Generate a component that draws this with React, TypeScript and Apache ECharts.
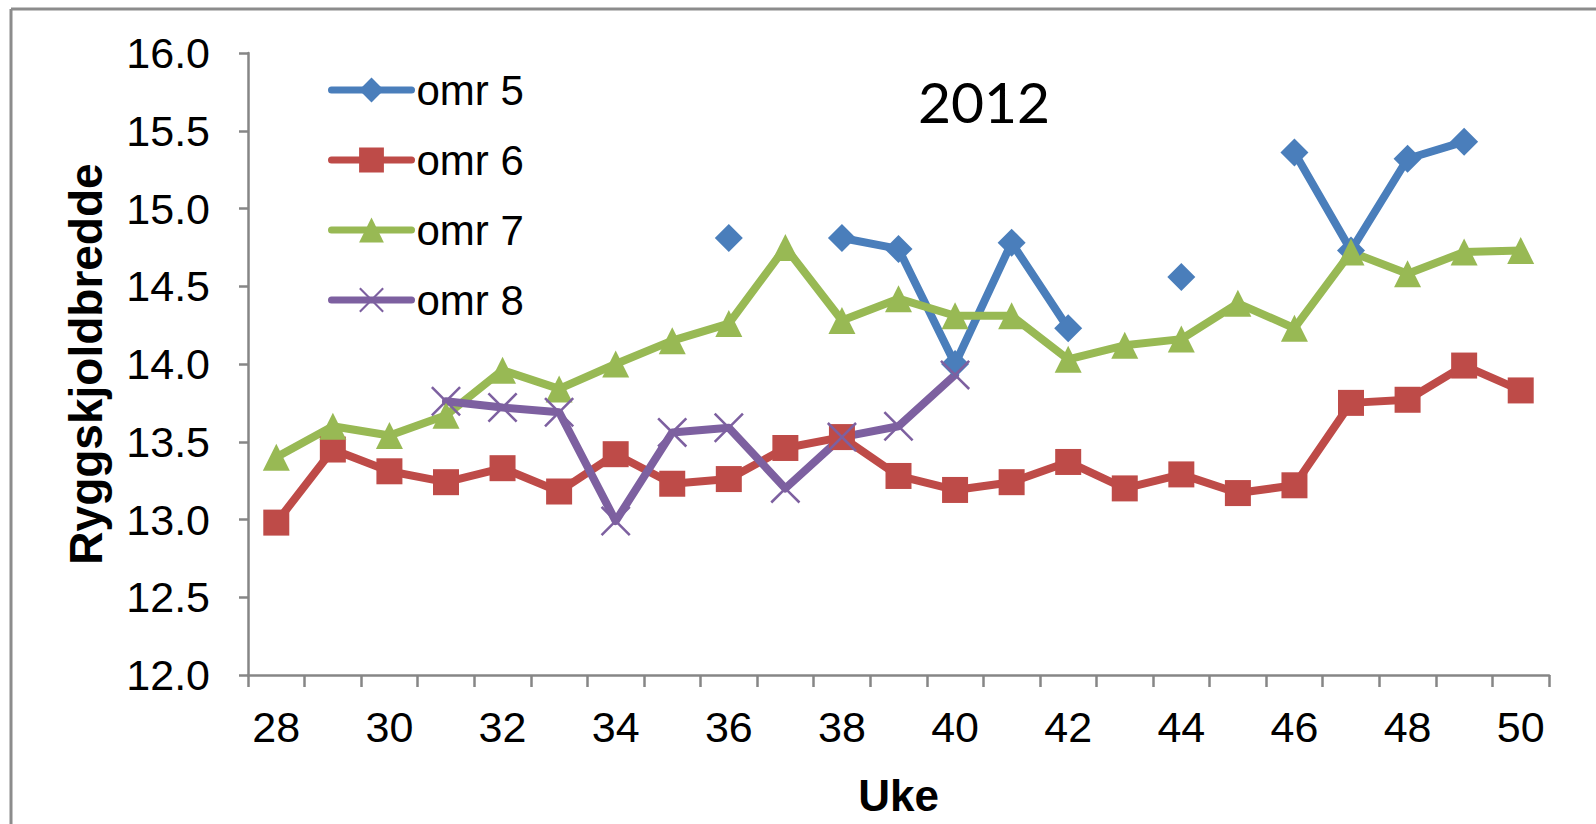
import React, { useEffect, useRef } from "react";
import * as echarts from "echarts";

const weeks = ["28", "29", "30", "31", "32", "33", "34", "35", "36", "37", "38", "39", "40", "41", "42", "43", "44", "45", "46", "47", "48", "49", "50"];
const omr5 = [null, null, null, null, null, null, null, null, 14.81, null, 14.81, 14.74, 14.0, 14.78, 14.23, null, 14.56, null, 15.36, 14.73, 15.32, 15.43, null];
const omr6 = [12.98, 13.45, 13.31, 13.24, 13.33, 13.18, 13.42, 13.23, 13.26, 13.46, 13.53, 13.28, 13.19, 13.24, 13.37, 13.2, 13.29, 13.17, 13.22, 13.75, 13.77, 13.99, 13.83];
const omr7 = [13.4, 13.6, 13.54, 13.67, 13.96, 13.84, 14.0, 14.15, 14.26, 14.75, 14.28, 14.42, 14.31, 14.31, 14.03, 14.12, 14.16, 14.39, 14.23, 14.72, 14.58, 14.72, 14.73];
const omr8 = [null, null, null, 13.76, 13.72, 13.69, 12.99, 13.56, 13.59, 13.2, 13.53, 13.6, 13.93, null, null, null, null, null, null, null, null, null, null];
const seriesNames = ["omr 5", "omr 6", "omr 7", "omr 8"];
const titleText = "2012";
const yName = "Ryggskjoldbredde";
const xName = "Uke";

const FONT = "'Liberation Sans', Arial, sans-serif";
const AXIS = "#868686";
const XPATH = "path://M0,6 L6,0 L50,44 L94,0 L100,6 L56,50 L100,94 L94,100 L50,56 L6,100 L0,94 L44,50 Z";

export default function App() {
  const ref = useRef<HTMLDivElement>(null);
  useEffect(() => {
    if (!ref.current) return;
    const chart = echarts.init(ref.current, null, { renderer: "svg" });
    const mk = (name: string, data: (number | null)[], color: string, symbol: string, size: number) => ({
      name,
      type: "line",
      data,
      connectNulls: false,
      showSymbol: true,
      showAllSymbol: true,
      symbol,
      symbolSize: size,
      lineStyle: { color, width: 8, cap: "round", join: "round" },
      itemStyle: { color, borderWidth: 0 },
      emphasis: { disabled: true },
    });
    chart.setOption({
      animation: false,
      backgroundColor: "#ffffff",
      grid: { left: 248, right: 47, top: 53, bottom: 149, containLabel: false },
      legend: {
        orient: "vertical",
        left: 328,
        top: 69,
        padding: 0,
        itemWidth: 80,
        itemHeight: 31,
        itemGap: 28,
        data: seriesNames,
        textStyle: { fontFamily: FONT, fontSize: 42, color: "#000" },
        lineStyle: { width: 7, cap: "round" },
      },
      xAxis: {
        type: "category",
        data: weeks,
        boundaryGap: true,
        name: xName,
        nameLocation: "middle",
        nameGap: 98,
        nameTextStyle: { fontFamily: FONT, fontSize: 44, fontWeight: "bold", color: "#000" },
        axisLine: { show: true, lineStyle: { color: AXIS, width: 2.5 } },
        axisTick: { show: true, interval: 0, length: 12, lineStyle: { color: AXIS, width: 2.5 } },
        axisLabel: { interval: 1, margin: 30, fontFamily: FONT, fontSize: 43, color: "#000" },
        splitLine: { show: false },
      },
      yAxis: {
        type: "value",
        min: 12,
        max: 16,
        interval: 0.5,
        name: yName,
        nameLocation: "middle",
        nameGap: 139,
        nameTextStyle: { fontFamily: FONT, fontSize: 46, fontWeight: "bold", color: "#000" },
        axisLine: { show: true, lineStyle: { color: AXIS, width: 2.5 } },
        axisTick: { show: true, length: 9, lineStyle: { color: AXIS, width: 2.5 } },
        axisLabel: { margin: 38, fontFamily: FONT, fontSize: 43, color: "#000", formatter: (v: number) => v.toFixed(1) },
        splitLine: { show: false },
      },
      graphic: [
        { type: "line", shape: { x1: 11, y1: 9, x2: 1600, y2: 9 }, style: { stroke: "#8c8c8c", lineWidth: 3 }, silent: true },
        { type: "line", shape: { x1: 11, y1: 9, x2: 11, y2: 830 }, style: { stroke: "#8c8c8c", lineWidth: 3 }, silent: true },
        { type: "text", x: 984, y: 101, style: { text: titleText, fontFamily: "Lato, 'Open Sans', sans-serif", fontSize: 57, fill: "#000", align: "center", verticalAlign: "middle" }, silent: true },
      ],
      series: [
        mk(seriesNames[0], omr5, "#4a7ebb", "diamond", 28),
        mk(seriesNames[1], omr6, "#be4b48", "rect", 26),
        mk(seriesNames[2], omr7, "#98b954", "triangle", 27),
        mk(seriesNames[3], omr8, "#7d60a0", XPATH, 30),
      ],
    });
    return () => chart.dispose();
  }, []);
  return <div ref={ref} style={{ position: "fixed", left: 0, top: 0, width: 1596, height: 824 }} />;
}
